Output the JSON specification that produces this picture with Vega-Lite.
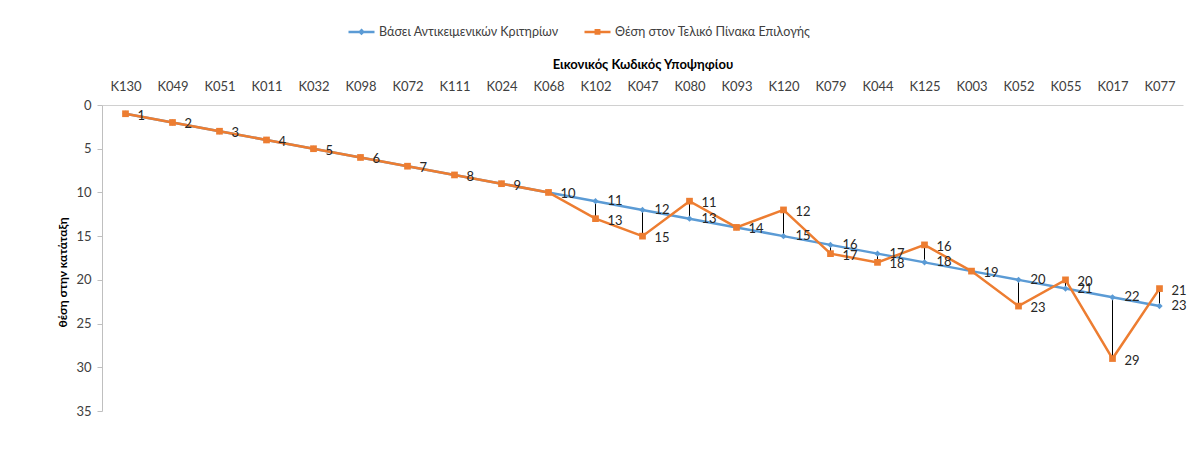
{
  "$schema": "https://vega.github.io/schema/vega-lite/v6.json",
  "autosize": {"type": "none"},
  "width": 1081,
  "height": 306,
  "padding": {"left": 102, "top": 105, "right": 20, "bottom": 59},
  "background": "white",
  "config": {
    "font": "Lato",
    "view": {"stroke": null},
    "axis": {"grid": false, "labelColor": "#404040", "titleColor": "#000000", "labelFont": "Lato", "titleFont": "Lato"},
    "legend": {
      "orient": "none", "direction": "horizontal", "legendX": 245, "legendY": -88,
      "labelFontSize": 12.5, "labelColor": "#404040", "labelOffset": 3, "columnPadding": 20, "labelLimit": 400,
      "symbolSize": 676, "symbolStrokeWidth": 2.5, "symbolOpacity": 1
    }
  },
  "data": {
    "values": [
      {"code": "K130", "objective": 1, "final": 1},
      {"code": "K049", "objective": 2, "final": 2},
      {"code": "K051", "objective": 3, "final": 3},
      {"code": "K011", "objective": 4, "final": 4},
      {"code": "K032", "objective": 5, "final": 5},
      {"code": "K098", "objective": 6, "final": 6},
      {"code": "K072", "objective": 7, "final": 7},
      {"code": "K111", "objective": 8, "final": 8},
      {"code": "K024", "objective": 9, "final": 9},
      {"code": "K068", "objective": 10, "final": 10},
      {"code": "K102", "objective": 11, "final": 13},
      {"code": "K047", "objective": 12, "final": 15},
      {"code": "K080", "objective": 13, "final": 11},
      {"code": "K093", "objective": 14, "final": 14},
      {"code": "K120", "objective": 15, "final": 12},
      {"code": "K079", "objective": 16, "final": 17},
      {"code": "K044", "objective": 17, "final": 18},
      {"code": "K125", "objective": 18, "final": 16},
      {"code": "K003", "objective": 19, "final": 19},
      {"code": "K052", "objective": 20, "final": 23},
      {"code": "K055", "objective": 21, "final": 20},
      {"code": "K017", "objective": 22, "final": 29},
      {"code": "K077", "objective": 23, "final": 21}
    ]
  },
  "encoding": {
    "x": {
      "field": "code", "type": "nominal", "sort": null,
      "scale": {"type": "point", "padding": 0.5},
      "axis": {
        "orient": "top", "title": "Εικονικός Κωδικός Υποψηφίου",
        "titleFontSize": 13, "titleFontWeight": "bold", "titlePadding": 9,
        "labelFontSize": 13, "labelAngle": 0, "labelPadding": 12,
        "ticks": false, "domainColor": "#D0D0D0", "domainWidth": 1
      }
    }
  },
  "layer": [
    {
      "transform": [{"fold": ["objective", "final"], "as": ["series", "pos"]}, {"filter": "datum.series === 'objective'"}],
      "mark": {"type": "line", "strokeWidth": 2.5},
      "encoding": {
        "y": {
          "field": "pos", "type": "quantitative",
          "scale": {"domain": [0, 35], "reverse": true, "nice": false, "zero": true},
          "axis": {
            "values": [0, 5, 10, 15, 20, 25, 30, 35],
            "title": "θέση στην κατάταξη", "titleFontSize": 12, "titleFontWeight": "bold",
            "titlePadding": 6, "titleY": 167,
            "labelFontSize": 13, "labelPadding": 6, "tickSize": 5,
            "tickColor": "#BFBFBF", "domainColor": "#BFBFBF", "domainWidth": 1
          }
        },
        "color": {"field": "series", "type": "nominal", "scale": {"domain": ["objective", "final"], "range": ["#5B9BD5", "#ED7D31"]}}
      }
    },
    {
      "transform": [{"fold": ["objective", "final"], "as": ["series", "pos"]}, {"filter": "datum.series === 'final'"}],
      "mark": {"type": "line", "strokeWidth": 2.5},
      "encoding": {
        "y": {"field": "pos", "type": "quantitative"},
        "color": {"field": "series", "type": "nominal"}
      }
    },
    {
      "mark": {"type": "rule", "color": "#000000", "strokeWidth": 1},
      "encoding": {
        "y": {"field": "objective", "type": "quantitative"},
        "y2": {"field": "final"}
      }
    },
    {
      "transform": [{"fold": ["objective", "final"], "as": ["series", "pos"]}, {"filter": "datum.series === 'objective'"}],
      "mark": {"type": "point", "filled": true, "opacity": 1, "shape": "diamond", "size": 40},
      "encoding": {
        "y": {"field": "pos", "type": "quantitative"},
        "color": {"field": "series", "type": "nominal"}
      }
    },
    {
      "transform": [{"fold": ["objective", "final"], "as": ["series", "pos"]}, {"filter": "datum.series === 'final'"}],
      "mark": {"type": "point", "filled": true, "opacity": 1, "shape": "square", "size": 45},
      "encoding": {
        "y": {"field": "pos", "type": "quantitative"},
        "color": {"field": "series", "type": "nominal"}
      }
    },
    {
      "transform": [{"fold": ["objective", "final"], "as": ["series", "pos"]}, {"filter": "datum.series === 'legendonly'"}],
      "mark": {"type": "point", "filled": true, "opacity": 1, "strokeWidth": 0},
      "encoding": {
        "y": {"field": "pos", "type": "quantitative"},
        "color": {"field": "series", "type": "nominal",
          "legend": {"title": null, "labelExpr": "datum.label === 'objective' ? 'Βάσει Αντικειμενικών Κριτηρίων' : 'Θέση στον Τελικό Πίνακα Επιλογής'"}
        },
        "stroke": {"field": "series", "type": "nominal",
          "scale": {"domain": ["objective", "final"], "range": ["#5B9BD5", "#ED7D31"]},
          "legend": {"title": null, "labelExpr": "datum.label === 'objective' ? 'Βάσει Αντικειμενικών Κριτηρίων' : 'Θέση στον Τελικό Πίνακα Επιλογής'"}
        },
        "shape": {"field": "series", "type": "nominal",
          "scale": {"domain": ["objective", "final"], "range": ["M-1,0H1M0,-0.13L0.13,0L0,0.13L-0.13,0Z", "M-1,0H1M-0.13,-0.13H0.13V0.13H-0.13Z"]},
          "legend": {"title": null, "labelExpr": "datum.label === 'objective' ? 'Βάσει Αντικειμενικών Κριτηρίων' : 'Θέση στον Τελικό Πίνακα Επιλογής'"}
        }
      }
    },
    {
      "transform": [{"filter": "datum.objective !== datum.final"}],
      "mark": {"type": "text", "align": "left", "baseline": "middle", "dx": 12, "dy": 0, "fontSize": 13, "color": "#262626"},
      "encoding": {"y": {"field": "objective", "type": "quantitative"}, "text": {"field": "objective"}}
    },
    {
      "mark": {"type": "text", "align": "left", "baseline": "middle", "dx": 12, "dy": 2, "fontSize": 13, "color": "#262626"},
      "encoding": {"y": {"field": "final", "type": "quantitative"}, "text": {"field": "final"}}
    }
  ]
}
